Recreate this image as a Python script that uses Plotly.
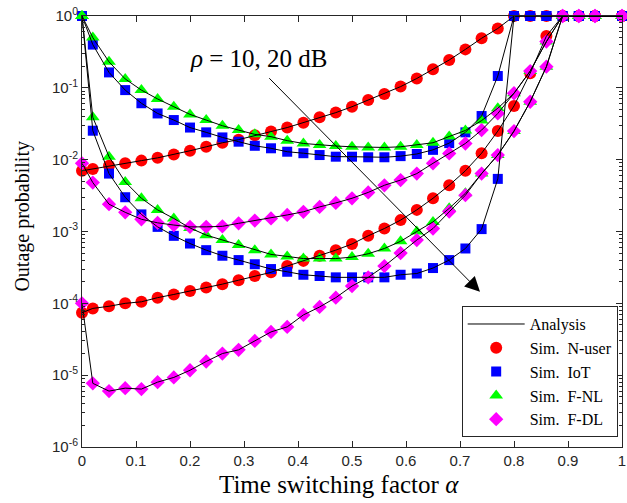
import plotly.graph_objects as go

# Time switching factor grid
alpha = [0, 0.02, 0.05, 0.08, 0.11, 0.14, 0.17, 0.20, 0.23, 0.26, 0.29, 0.32,
         0.35, 0.38, 0.41, 0.44, 0.47, 0.50, 0.53, 0.56, 0.59, 0.62, 0.65,
         0.68, 0.71, 0.74, 0.77, 0.80, 0.83, 0.86, 0.89, 0.92, 0.95, 1.0]

# Outage probability, rho = 10 dB
nuser_10 = [0.0070, 0.0074, 0.0082, 0.0089, 0.0097, 0.0106, 0.0118, 0.0133, 0.0151,
            0.0172, 0.0190, 0.0218, 0.0246, 0.0280, 0.0327, 0.0389, 0.0452, 0.0546,
            0.0676, 0.0820, 0.104, 0.135, 0.181, 0.244, 0.343, 0.490, 0.670,
            1, 1, 1, 1, 1, 1, 1]
iot_10 = [1, 0.40, 0.164, 0.093, 0.061, 0.044, 0.0356, 0.028, 0.024, 0.0204, 0.0178,
          0.0156, 0.0144, 0.0129, 0.0123, 0.0116, 0.0110, 0.0110, 0.0108, 0.0108,
          0.0112, 0.0120, 0.0137, 0.0170, 0.0240, 0.0405, 0.146,
          1, 1, 1, 1, 1, 1, 1]
fnl_10 = [1, 0.50, 0.23, 0.133, 0.093, 0.070, 0.0546, 0.0427, 0.0356, 0.0297, 0.0258,
          0.0225, 0.0209, 0.0184, 0.0168, 0.0160, 0.0155, 0.0151, 0.0148, 0.0148,
          0.0151, 0.0160, 0.0172, 0.0210, 0.0255, 0.0350, 0.052, 0.084, 0.171, 0.44,
          1, 1, 1, 1]
fdl_10 = [0.0089, 0.0048, 0.0024, 0.00185, 0.00148, 0.00132, 0.00123, 0.00116, 0.00116,
          0.00118, 0.00130, 0.00142, 0.00152, 0.00170, 0.00188, 0.00220, 0.00250,
          0.00290, 0.00350, 0.00440, 0.00520, 0.00640, 0.00890, 0.0122, 0.0168,
          0.0258, 0.044, 0.084, 0.171, 0.44, 1, 1, 1, 1]

# Outage probability, rho = 20 dB
nuser_20 = [7.4e-5, 8.5e-5, 9.1e-5, 1.0e-4, 1.05e-4, 1.2e-4, 1.33e-4, 1.48e-4, 1.66e-4,
            1.85e-4, 2.1e-4, 2.4e-4, 2.7e-4, 3.3e-4, 3.9e-4, 4.6e-4, 5.5e-4, 6.7e-4,
            8.7e-4, 1.1e-3, 1.44e-3, 2.0e-3, 2.9e-3, 4.4e-3, 7.0e-3, 0.0123, 0.025,
            0.056, 0.16, 0.525, 1, 1, 1, 1]
iot_20 = [1, 0.0253, 0.0064, 0.0030, 0.00173, 0.00116, 0.00087, 0.00068, 0.00055,
          0.00046, 0.00040, 0.00035, 0.00030, 0.000275, 0.00025, 0.00024, 0.00023,
          0.00023, 0.00023, 0.00023, 0.00025, 0.00026, 0.00031, 0.00040, 0.00058,
          0.00108, 0.0054, 1, 1, 1, 1, 1, 1, 1]
fnl_20 = [1, 0.039, 0.011, 0.0049, 0.0029, 0.0020, 0.00152, 0.00112, 0.00089, 0.00076,
          0.00065, 0.00055, 0.00048, 0.00045, 0.00042, 0.00042, 0.00042, 0.00044,
          0.00049, 0.00058, 0.00073, 0.00100, 0.00136, 0.0021, 0.0034, 0.0064,
          0.0116, 0.025, 0.064, 0.197, 1, 1, 1, 1]
fdl_20 = [1.0e-4, 7.7e-6, 6.0e-6, 6.6e-6, 6.4e-6, 8.0e-6, 9.3e-6, 1.17e-5, 1.55e-5,
          2.0e-5, 2.25e-5, 3.0e-5, 4.0e-5, 4.7e-5, 6.9e-5, 8.9e-5, 1.2e-4, 1.74e-4,
          2.3e-4, 3.3e-4, 5.0e-4, 7.6e-4, 1.1e-3, 1.9e-3, 3.2e-3, 0.0064, 0.0116,
          0.025, 0.064, 0.197, 1, 1, 1, 1]

x_ticks = [0, 0.1, 0.2, 0.3, 0.4, 0.5, 0.6, 0.7, 0.8, 0.9, 1]
x_tick_text = ["0", "0.1", "0.2", "0.3", "0.4", "0.5", "0.6", "0.7", "0.8", "0.9", "1"]
y_ticks = [1e-6, 1e-5, 1e-4, 1e-3, 1e-2, 1e-1, 1]
y_tick_text = ["10<sup>-6</sup>", "10<sup>-5</sup>", "10<sup>-4</sup>", "10<sup>-3</sup>",
               "10<sup>-2</sup>", "10<sup>-1</sup>", "10<sup>0</sup>"]

users = [
    ("Sim.\u00a0 N-user", "#FF0000", "circle", 12, nuser_10, nuser_20),
    ("Sim.\u00a0 IoT", "#0000FF", "square", 10, iot_10, iot_20),
    ("Sim.\u00a0 F-NL", "#00FF00", "triangle-up", 12, fnl_10, fnl_20),
    ("Sim.\u00a0 F-DL", "#FF00FF", "diamond", 11, fdl_10, fdl_20),
]

SERIF = "Liberation Serif, Times New Roman, serif"
SANS = "Liberation Sans, Arial, sans-serif"
AX = "#262626"

fig = go.Figure()

# simulation markers (both SNR levels in one trace per user)
for rank, (name, color, symbol, size, d10, d20) in enumerate(users, start=2):
    fig.add_trace(go.Scatter(
        x=alpha + alpha, y=d10 + d20, mode="markers", name=name,
        marker=dict(symbol=symbol, size=size, color=color, line=dict(width=0)),
        cliponaxis=False, legendrank=rank,
    ))

# analytical curves drawn over the markers
first = True
for name, color, symbol, size, d10, d20 in users:
    for d in (d10, d20):
        fig.add_trace(go.Scatter(
            x=alpha, y=d, mode="lines", name="Analysis",
            line=dict(color="black", width=1),
            showlegend=first, legendrank=1, cliponaxis=False,
        ))
        first = False

axis_common = dict(
    showline=True, linecolor=AX, linewidth=1, mirror="ticks",
    ticks="inside", tickcolor=AX, ticklen=6, showgrid=False, zeroline=False,
    tickfont=dict(family=SANS, size=15, color=AX), ticklabeloverflow="allow",
)

fig.update_xaxes(range=[0, 1], tickvals=x_ticks, ticktext=x_tick_text, **axis_common)
fig.update_yaxes(
    type="log", range=[-6, 0], tickvals=y_ticks, ticktext=y_tick_text,
    minor=dict(ticks="inside", ticklen=3, tickcolor=AX, dtick="D1", showgrid=False),
    **axis_common,
)

# axis titles
fig.add_annotation(
    x=0.476, y=-0.088, xref="paper", yref="paper", text="Time switching factor <i>α</i>",
    showarrow=False, xanchor="center", yanchor="middle",
    font=dict(family=SERIF, size=25, color="black"),
)
fig.add_annotation(
    x=-0.110, y=0.536, xref="paper", yref="paper", text="Outage probability",
    showarrow=False, xanchor="center", yanchor="middle", textangle=-90,
    font=dict(family=SERIF, size=20, color="black"),
)

# SNR annotation with arrow
fig.add_annotation(
    x=0.737, y=-3.84, ax=0.344, ay=-0.845, xref="x", yref="y", axref="x", ayref="y",
    text="", showarrow=True, arrowhead=2, arrowsize=3, arrowwidth=1, arrowcolor="black",
)
fig.add_annotation(
    x=0.327, y=-0.59, xref="x", yref="y", text="<i>ρ</i> = 10, 20 dB", showarrow=False,
    font=dict(family=SERIF, size=25, color="black"), xanchor="center", yanchor="middle",
)

fig.update_layout(
    width=627, height=503,
    margin=dict(l=82, r=1, t=16, b=56),
    paper_bgcolor="white", plot_bgcolor="white",
    legend=dict(
        x=0.992, y=0.023, xanchor="right", yanchor="bottom",
        bordercolor=AX, borderwidth=1, bgcolor="white",
        font=dict(family=SERIF, size=16, color="black"),
        itemwidth=57, tracegroupgap=0,
    ),
)

fig.write_html("out.html")
